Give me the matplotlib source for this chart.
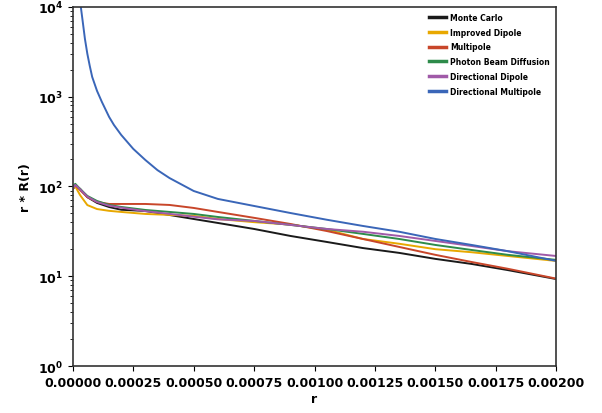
import matplotlib
matplotlib.use("Agg")
import matplotlib.pyplot as plt
from matplotlib.ticker import FormatStrFormatter

plt.rcParams['font.weight'] = 'bold'
plt.rcParams['mathtext.default'] = 'bf'

# sample radii shared by most curves
r = [0, 0.00001, 0.00003, 0.00006, 0.0001, 0.00015, 0.0002, 0.0003, 0.0004, 0.0005,
     0.0006, 0.00075, 0.0009, 0.00105, 0.0012, 0.00135, 0.0015, 0.00165, 0.0018, 0.002]

monte_carlo = [94, 101, 94, 76, 65.5, 59, 55, 53.3, 48.1, 43.4,
               39.2, 33.6, 28.1, 24.1, 20.6, 18.2, 15.6, 13.7, 11.7, 9.3]
improved_dipole = [94, 100, 80, 62, 56, 53.5, 52, 49.4, 48.2, 47,
                   43.4, 40, 37.6, 33, 26, 23, 20, 18.5, 16.8, 14.8]
multipole = [94, 104, 91, 76, 67.2, 63.8, 63.8, 63.8, 62.2, 57.6,
             52, 44.7, 38.2, 31.9, 26, 21.2, 17.3, 14.4, 12.1, 9.4]
photon_beam = [98.6, 107, 93.8, 78.4, 68.9, 62.2, 59.1, 54.7, 52, 49.4,
               45.7, 41.3, 37.3, 33.6, 29.6, 26, 22.3, 19.6, 17.3, 15.2]
directional_dipole = [94, 104, 93, 77, 67, 61, 58, 53, 49.5, 46,
                      43, 41.3, 37.3, 33.6, 31.3, 28.1, 24.7, 21.7, 19, 16.8]

# directional multipole blows up near r = 0
r_dm = [0.000029, 0.000033, 0.00004, 0.00005, 0.00006, 0.00007, 0.00008, 0.0001, 0.00012,
        0.00015, 0.00017, 0.0002, 0.00025, 0.0003, 0.00035, 0.0004, 0.0005,
        0.0006, 0.00075, 0.0009, 0.00105, 0.0012, 0.00135, 0.0015, 0.00165, 0.0018, 0.002]
directional_multipole = [14000, 10000, 7160, 4400, 3000, 2200, 1660, 1160, 875,
                         595, 484, 375, 262, 197, 152, 124, 89,
                         72.6, 60.6, 50.6, 42.6, 36.3, 31.3, 26, 22.3, 19, 14.8]

fig = plt.figure(figsize=(6.02, 4.14), dpi=100)
ax = fig.add_axes([0.121, 0.1135, 0.803, 0.8675])

ax.plot(r, monte_carlo, color='#1a1a1a', lw=1.4, label='Monte Carlo')
ax.plot(r, improved_dipole, color='#e8a800', lw=1.4, label='Improved Dipole')
ax.plot(r, multipole, color='#c8462a', lw=1.4, label='Multipole')
ax.plot(r, photon_beam, color='#2e8b4a', lw=1.4, label='Photon Beam Diffusion')
ax.plot(r, directional_dipole, color='#a05aa8', lw=1.4, label='Directional Dipole')
ax.plot(r_dm, directional_multipole, color='#3a66b8', lw=1.4, label='Directional Multipole')

ax.set_yscale('log')
ax.set_ylim(1, 1e4)
ax.set_xlim(0, 0.002)
ax.set_xticks([i * 0.00025 for i in range(9)])
ax.xaxis.set_major_formatter(FormatStrFormatter('%.5f'))
ax.tick_params(labelsize=9)
for s in ax.spines.values():
    s.set_linewidth(1.2)
    s.set_color('#333333')

ax.set_xlabel('r', fontsize=9, fontweight='bold', labelpad=2)
ax.set_ylabel('r * R(r)', fontsize=9, fontweight='bold')

leg = ax.legend(loc='upper right', fontsize=5.5, frameon=False, handlelength=2.2,
                handletextpad=0.6, labelspacing=0.75, borderaxespad=0.4)
for line in leg.get_lines():
    line.set_linewidth(2.5)

plt.savefig('out.png', dpi=100)
